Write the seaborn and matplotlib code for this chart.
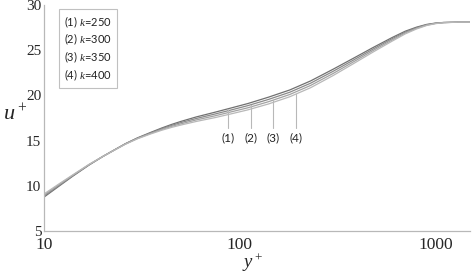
import numpy as np
import pandas as pd
import matplotlib
matplotlib.use("Agg")
import matplotlib.pyplot as plt
import seaborn as sns

# ---- data ----
yplus = [10, 12, 14, 17, 20, 23, 26, 30, 35, 40, 45, 50, 60, 75, 90, 110, 140, 180,
         230, 300, 380, 480, 600, 700, 800, 900, 1000, 1100, 1300, 1500]
u_k250 = [8.75, 10.0, 11.05, 12.3, 13.25, 14.0, 14.65, 15.3, 15.9, 16.4, 16.8, 17.12,
          17.62, 18.15, 18.6, 19.1, 19.8, 20.6, 21.6, 22.9, 24.1, 25.3, 26.4, 27.1,
          27.55, 27.85, 28.0, 28.07, 28.1, 28.1]
u_k300 = [8.87, 10.08, 11.1, 12.33, 13.25, 13.99, 14.63, 15.27, 15.84, 16.32, 16.69, 16.99,
          17.45, 17.95, 18.38, 18.87, 19.55, 20.35, 21.35, 22.67, 23.9, 25.13, 26.27, 27.0,
          27.48, 27.81, 27.98, 28.06, 28.1, 28.1]
u_k350 = [8.98, 10.17, 11.15, 12.35, 13.25, 13.98, 14.61, 15.23, 15.79, 16.23, 16.58, 16.85,
          17.29, 17.75, 18.17, 18.63, 19.3, 20.1, 21.1, 22.43, 23.7, 24.97, 26.13, 26.9,
          27.42, 27.77, 27.96, 28.05, 28.1, 28.1]
u_k400 = [9.1, 10.25, 11.2, 12.38, 13.25, 13.97, 14.59, 15.2, 15.73, 16.15, 16.47, 16.72,
          17.12, 17.55, 17.95, 18.4, 19.05, 19.85, 20.85, 22.2, 23.5, 24.8, 26.0, 26.8,
          27.35, 27.73, 27.94, 28.04, 28.1, 28.1]
series_names = ["(1)", "(2)", "(3)", "(4)"]
legend_labels = ["(1) $k$=250", "(2) $k$=300", "(3) $k$=350", "(4) $k$=400"]
ann_x = [87, 114, 148, 194]
yticks = [5, 10, 15, 20, 25, 30]

series = [u_k250, u_k300, u_k350, u_k400]
df = pd.concat([pd.DataFrame({"y+": yplus, "u+": s, "case": n})
                for s, n in zip(series, series_names)], ignore_index=True)

sns.set_style("white")
plt.rcParams["mathtext.fontset"] = "custom"
plt.rcParams["mathtext.it"] = "Liberation Serif:italic"
plt.rcParams["mathtext.rm"] = "Liberation Serif"

fig = plt.figure(figsize=(4.72, 2.73), dpi=100)
ax = fig.add_axes([0.0932, 0.1538, 0.9026, 0.8279])

palette = ["#707070", "#8a8a8a", "#a2a2a2", "#b8b8b8"]
sns.lineplot(data=df, x="y+", y="u+", hue="case", palette=palette, ax=ax,
             linewidth=0.9, legend=False)

ax.set_xscale("log")
ax.set_xlim(10, 1500)
ax.set_ylim(5, 30)
ax.set_yticks(yticks)
ax.set_xticks([10, 100, 1000])
ax.set_xticklabels(["10", "100", "1000"], fontsize=12.5, fontfamily="Liberation Serif")
ax.set_yticklabels([str(v) for v in yticks], fontsize=11, fontfamily="Liberation Serif")
ax.tick_params(axis="both", which="major", direction="in", length=4, color="#b0b0b0", width=0.8, pad=2)
ax.tick_params(axis="x", which="minor", direction="in", length=2.5, color="#b0b0b0", width=0.7)
ax.tick_params(axis="x", which="major", pad=4.5)

for s in ["top", "right"]:
    ax.spines[s].set_visible(False)
for s in ["left", "bottom"]:
    ax.spines[s].set_color("#b8b8b8")
    ax.spines[s].set_linewidth(0.9)

ax.set_xlabel("$y^+$", fontsize=13.5, va="center")
ax.xaxis.set_label_coords(0.49, -0.14)
ax.set_ylabel("$u^+$", fontsize=16, rotation=0)
ax.yaxis.set_label_coords(-0.068, 0.47)

# annotations
logx = np.log10(yplus)
for xa, s, n in zip(ann_x, series, series_names):
    ytop = np.interp(np.log10(xa), logx, s)
    ax.plot([xa, xa], [16.4, ytop], color="#b8b8b8", lw=0.8)
    ax.text(xa, 15.3, n, ha="center", va="center", fontsize=8.5,
            fontfamily="Lato", color="#222222")

# legend box
ax.text(0.048, 0.807, "\n".join(legend_labels), transform=ax.transAxes,
        ha="left", va="center", fontsize=8, fontfamily="Lato",
        linespacing=1.2, color="#222222",
        bbox=dict(boxstyle="square,pad=0.45", fc="white", ec="#c0c0c0", lw=0.8))

fig.savefig("out.png", dpi=100)
